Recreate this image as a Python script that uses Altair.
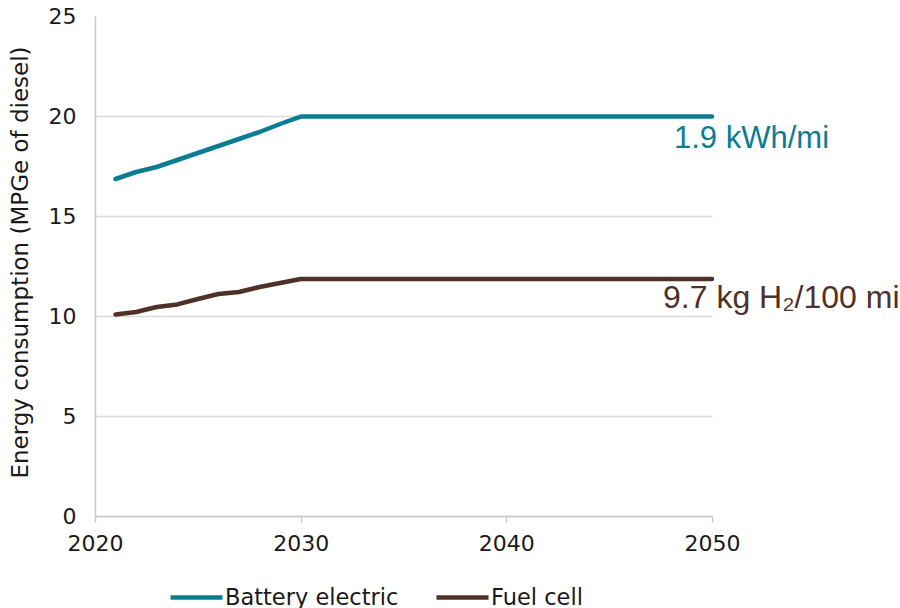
import altair as alt
import pandas as pd

# Energy consumption in MPGe of diesel, by model year
years = [2021, 2022, 2023, 2024, 2025, 2026, 2027, 2028, 2029, 2030, 2050]
battery_electric = [16.85, 17.2, 17.45, 17.8, 18.15, 18.5, 18.85, 19.2, 19.6, 19.97, 19.97]
fuel_cell = [10.08, 10.2, 10.45, 10.58, 10.85, 11.1, 11.2, 11.45, 11.65, 11.85, 11.85]

series_names = ["Battery electric", "Fuel cell"]
series_colors = ["#0B7D93", "#4E3128"]
end_labels = ["1.9 kWh/mi", "9.7 kg H₂/100 mi"]

rows = []
for name, values in zip(series_names, [battery_electric, fuel_cell]):
    for yr, v in zip(years, values):
        rows.append({"year": yr, "value": v, "series": name})
df = pd.DataFrame(rows)

label_df = pd.DataFrame({
    "year": [years[-1], years[-1]],
    "value": [battery_electric[-1], fuel_cell[-1]],
    "label": end_labels,
    "series": series_names,
})

TICK_FONT = "DejaVu Sans"

x_enc = alt.X(
    "year:Q",
    scale=alt.Scale(domain=[2020, 2050], nice=False, zero=False),
    axis=alt.Axis(
        values=[2020, 2030, 2040, 2050], format="d", title=None, grid=False,
        domainColor="#C8C8C8", domainWidth=1.5, tickColor="#C8C8C8", tickWidth=1.5,
        tickSize=6, labelFont=TICK_FONT, labelFontSize=22, labelColor="#1a1a1a",
        labelPadding=11, labelFlush=False,
    ),
)
y_enc = alt.Y(
    "value:Q",
    scale=alt.Scale(domain=[0, 25], nice=False),
    axis=alt.Axis(
        values=[0, 5, 10, 15, 20, 25], title="Energy consumption (MPGe of diesel)",
        grid=True,
        gridColor={"condition": {"test": "datum.value == 25", "value": "transparent"},
                   "value": "#D9D9D9"},
        gridWidth=1.5, ticks=False, domainColor="#C8C8C8", domainWidth=1.5,
        labelFont=TICK_FONT, labelFontSize=22, labelColor="#1a1a1a", labelPadding=19,
        titleFont=TICK_FONT, titleFontSize=23, titleFontWeight="normal",
        titleColor="#1a1a1a", titleAngle=-90, titleAlign="center",
        titleBaseline="middle", titleX=-75, titleY=246,
    ),
)

color_scale = alt.Scale(domain=series_names, range=series_colors)

lines = alt.Chart(df).mark_line(strokeWidth=4.5, strokeCap="round", strokeJoin="round").encode(
    x=x_enc,
    y=y_enc,
    color=alt.Color(
        "series:N", scale=color_scale,
        legend=alt.Legend(
            title=None, orient="none", direction="horizontal", legendX=73, legendY=553,
            symbolType="stroke", symbolSize=2704, symbolStrokeWidth=4.5,
            labelFont=TICK_FONT, labelFontSize=22.5, labelColor="#1a1a1a",
            labelOffset=0, columnPadding=28, symbolOffset=0, labelLimit=400,
        ),
    ),
)

battery_label = alt.Chart(label_df[label_df["series"] == series_names[0]]).mark_text(
    font="Liberation Sans", fontSize=31, align="left", baseline="alphabetic",
    dx=-38, dy=31, color=series_colors[0],
).encode(x="year:Q", y="value:Q", text="label:N")

fuel_label = alt.Chart(label_df[label_df["series"] == series_names[1]]).mark_text(
    font="Liberation Sans", fontSize=32, align="left", baseline="alphabetic",
    dx=-49, dy=29, color=series_colors[1],
).encode(x="year:Q", y="value:Q", text="label:N")

chart = (
    alt.layer(lines, battery_label, fuel_label)
    .properties(
        width=617, height=500,
        autosize=alt.AutoSizeParams(type="none"),
        padding={"left": 95, "top": 16, "right": 188, "bottom": 92},
        background="white",
    )
    .configure_view(stroke=None)
)

chart.save("out.html", embed_options={"renderer": "svg", "actions": False})
